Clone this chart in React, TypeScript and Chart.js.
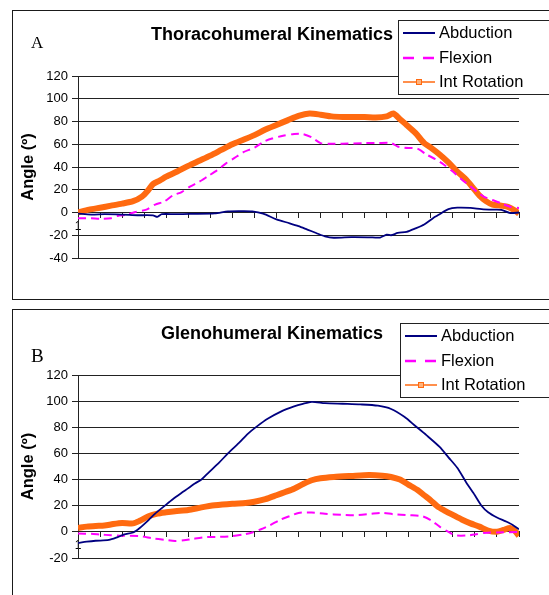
import React, { useEffect, useRef } from 'react';
import { Chart, registerables } from 'chart.js';

Chart.register(...registerables);

// ---------- data (x: percent of the movement cycle, y: angle in degrees) ----------
const yTicksA = [-40, -20, 0, 20, 40, 60, 80, 100, 120];
const yTicksB = [-20, 0, 20, 40, 60, 80, 100, 120];
const xTickFirstLabel = '1';
const seriesNames = ['Abduction', 'Flexion', 'Int Rotation'];

const thoracoAbduction: number[][] = [
  [0, -1], [3, -1.8], [6, -1.5], [10, -1.8], [13.5, -2.4], [17, -2.5], [18, -3.8], [19, -1.5],
  [22, -1.5], [25.5, -1.2], [31, -0.8], [34, 1], [37, 1.2], [39.5, 1], [42, -1], [45, -6],
  [48, -9.5], [50, -12], [52, -15], [54, -18], [56, -21], [58, -22.2], [62, -21.7], [66, -21.8],
  [68.5, -22], [70, -19.5], [71, -20], [72.5, -18], [74.5, -17], [76.5, -14], [78.5, -10.5],
  [80.5, -5], [82, -1.5], [84, 3], [86, 4.2], [89, 4], [91.5, 3], [94, 2.5], [96, 2.3], [98, -0.5], [100, 0],
];
const thoracoFlexion: number[][] = [
  [0, -5], [3, -5], [5, -5.5], [7.5, -5], [9, -3], [11, -2], [13, 0.5], [15.5, 2.5], [17.5, 7],
  [19.5, 9.5], [21.5, 15], [23.5, 18], [25.5, 23], [27.5, 27], [29.5, 32], [31.5, 37], [33.5, 43],
  [35.5, 48], [37.5, 53], [40, 57], [42, 62], [44, 65], [46.5, 67.5], [49, 69], [51, 69], [53, 66],
  [55, 61], [57, 60.5], [60, 60.5], [65, 61], [68, 61], [71, 61], [72.5, 58], [74, 57], [77, 56],
  [79, 51], [81, 47], [83, 42], [85, 36], [87, 29], [89, 23], [90.5, 18], [92, 14], [94, 11],
  [96, 8], [98, 5], [100, 4],
];
const thoracoIntRotation: number[][] = [
  [0, 0], [2.5, 2.5], [5, 4.2], [7.5, 6], [10, 7.8], [12.5, 10], [14.5, 14], [16, 20], [17, 25],
  [18.5, 28], [20, 31.5], [22.5, 36], [25, 41], [27.5, 45.5], [30, 50], [32.5, 55], [35, 60],
  [37.5, 64], [40, 68], [42.5, 73], [45, 77], [47.5, 81], [50, 85], [52.5, 87], [55, 86],
  [57.5, 84.5], [60, 84], [62.5, 84], [65, 84], [67.5, 83.5], [70, 84.5], [71.5, 87], [73, 82],
  [74.5, 77], [76.5, 70], [78.5, 61], [80, 57], [82, 51], [84, 44], [86, 36], [88, 29], [89.5, 22],
  [91, 15], [92.5, 10], [94, 7], [96, 6], [97.5, 5], [99, 2], [100, -1],
];

const glenoAbduction: number[][] = [
  [0, -8.5], [2, -7.5], [4, -6.8], [7, -6.2], [9, -4], [10.5, -2], [12.5, -0.5], [14, 3], [16, 9],
  [17.5, 14], [19.5, 19.5], [21.5, 25], [24, 31], [26.5, 37], [28, 40], [29.5, 45], [32, 53],
  [34, 60], [36.5, 68], [38.5, 75], [40.5, 80.5], [43, 86.5], [46, 92], [49, 96], [51, 98],
  [53, 99.5], [56, 98.5], [60, 98], [64, 97.5], [68, 96.5], [71, 94], [74, 88], [76.5, 81],
  [79, 74], [82, 65], [84, 57], [86, 49], [88, 38], [90, 28], [91.5, 20], [93, 15], [95, 11],
  [97, 8], [98.5, 5.5], [100, 2],
];
const glenoFlexion: number[][] = [
  [0, -1.3], [3, -1.5], [5, -2], [7.5, -2.6], [10, -3], [14, -3.2], [17, -5], [19.5, -6], [22, -7],
  [24, -6.5], [26, -5.4], [29, -4], [32, -3.8], [35, -3.3], [37.5, -2], [39.5, -0.5], [41.5, 2],
  [43.5, 5], [46, 9.5], [48, 12], [50, 14.5], [53, 14.8], [56, 13.8], [60, 13], [63, 12.8],
  [66, 13.6], [69, 14.6], [71.5, 13.5], [75, 12.8], [78, 12], [80, 9], [82, 4], [84, 0],
  [85.5, -2.6], [88, -2.8], [90, -2], [92, -0.8], [95, -0.5], [100, 0],
];
const glenoIntRotation: number[][] = [
  [0, 3], [2, 4], [4, 4.5], [6, 4.8], [8, 6], [10, 6.8], [12.5, 6.5], [14, 8.5], [16, 12], [18, 14],
  [20, 15], [22, 15.8], [25, 16.7], [28, 18.7], [31, 20.3], [35, 21.5], [38, 22], [40, 23],
  [42.5, 25], [45, 28], [47, 30.5], [49, 33], [51, 36.5], [53, 39.5], [55, 41], [58, 42], [62, 42.8],
  [66, 43.5], [69, 43], [71, 42], [73, 40], [75, 36], [77, 32], [78.5, 28], [80, 24], [81.5, 19.5],
  [83, 16.5], [85, 13], [87, 9.5], [89, 6.5], [91, 4], [93, 1], [95, 0], [96.5, 1.5], [98, 3],
  [99, 1], [100, -3],
];

// ---------- styles ----------
const NAVY = '#000080';
const MAGENTA = '#FF00FF';
const ORANGE = '#FF6A10';
const ORANGE_LIGHT = '#FFB27A';
const GRID = '#222222';
const SANS = '"Liberation Sans", Arial, sans-serif';
const SERIF = '"Liberation Serif", "Times New Roman", serif';

Chart.defaults.font.family = SANS;
Chart.defaults.color = '#000';

type PanelDef = {
  title: string;
  letter: string;
  letterSize: number;
  titleBaseline: number;
  letterBaseline: number;
  legendBox: { x: number; y: number; h: number };
  legendRows: number[];
  legendSampleX: number;
  yMin: number;
  yTicks: number[];
  abd: number[][];
  flex: number[][];
  rot: number[][];
  padBottom: number;
};

const toXY = (arr: number[][]) => arr.map(([x, y]) => ({ x, y }));

function decorPlugin(p: PanelDef) {
  return {
    id: 'decor',
    afterDraw(chart: Chart) {
      const ctx = chart.ctx;
      ctx.save();
      // title
      ctx.fillStyle = '#000';
      ctx.font = `bold 18px ${SANS}`;
      ctx.textAlign = 'center';
      ctx.textBaseline = 'alphabetic';
      ctx.fillText(p.title, 259, p.titleBaseline);
      // panel letter
      ctx.font = `${p.letterSize}px ${SERIF}`;
      ctx.textAlign = 'left';
      ctx.fillText(p.letter, 18, p.letterBaseline);
      // legend box
      const { x, y, h } = p.legendBox;
      ctx.fillStyle = '#fff';
      ctx.fillRect(x, y, 300, h);
      ctx.strokeStyle = '#222';
      ctx.lineWidth = 1;
      ctx.strokeRect(x + 0.5, y + 0.5, 300, h);
      const sx0 = p.legendSampleX;
      const sx1 = sx0 + 32;
      const colors = [NAVY, MAGENTA, ORANGE];
      p.legendRows.forEach((ry, i) => {
        ctx.save();
        ctx.strokeStyle = colors[i];
        ctx.lineWidth = i === 0 ? 2 : i === 1 ? 2.5 : 1.5;
        if (i === 1) ctx.setLineDash([11, 9]);
        ctx.beginPath();
        ctx.moveTo(sx0, ry);
        ctx.lineTo(sx1, ry);
        ctx.stroke();
        ctx.restore();
        if (i === 2) {
          ctx.fillStyle = ORANGE_LIGHT;
          ctx.fillRect(sx0 + 13, ry - 3, 6, 6);
          ctx.strokeStyle = ORANGE;
          ctx.lineWidth = 1;
          ctx.strokeRect(sx0 + 13.5, ry - 2.5, 5, 5);
        }
        ctx.fillStyle = '#000';
        ctx.font = `16.5px ${SANS}`;
        ctx.textAlign = 'left';
        ctx.textBaseline = 'middle';
        ctx.fillText(seriesNames[i], sx1 + 4, ry + 0.5);
      });
      ctx.restore();
    },
  };
}

function buildConfig(p: PanelDef): any {
  return {
    type: 'line',
    data: {
      datasets: [
        {
          label: seriesNames[0],
          data: toXY(p.abd),
          borderColor: NAVY,
          borderWidth: 1.8,
          pointRadius: 0,
          tension: 0.25,
        },
        {
          label: seriesNames[1],
          data: toXY(p.flex),
          borderColor: MAGENTA,
          borderWidth: 2,
          borderDash: [8, 5],
          pointRadius: 0,
          tension: 0.25,
        },
        {
          label: seriesNames[2],
          data: toXY(p.rot),
          borderColor: ORANGE,
          borderWidth: 6,
          pointRadius: 0,
          tension: 0.25,
        },
      ],
    },
    options: {
      responsive: false,
      animation: false,
      devicePixelRatio: 1,
      layout: { padding: { left: 0, top: 65, right: 30, bottom: p.padBottom } },
      plugins: {
        legend: { display: false },
        tooltip: { enabled: false },
        title: { display: false },
      },
      scales: {
        x: {
          type: 'linear',
          min: 0,
          max: 100,
          position: { y: 0 },
          ticks: {
            stepSize: 5,
            autoSkip: false,
            maxRotation: 0,
            minRotation: 0,
            padding: 2,
            font: { size: 12 },
            color: '#000',
            callback: (v: number) => (v === 0 ? xTickFirstLabel : ''),
          },
          grid: { drawOnChartArea: false, drawTicks: true, tickLength: 5, color: GRID },
          border: { display: true, color: GRID, width: 1 },
        },
        y: {
          min: p.yMin,
          max: 120,
          afterFit: (scale: any) => {
            scale.width = 65;
          },
          afterBuildTicks: (scale: any) => {
            scale.ticks = p.yTicks.map((v) => ({ value: v }));
          },
          ticks: {
            font: { size: 13 },
            color: '#000',
            padding: 4,
          },
          grid: { color: GRID, lineWidth: 1, tickLength: 6, drawTicks: true },
          border: { display: true, color: GRID, width: 1 },
          title: {
            display: true,
            text: 'Angle (º)',
            font: { size: 16.5, weight: 'bold' },
            color: '#000',
            padding: { top: 6, bottom: 0 },
          },
        },
      },
    },
    plugins: [decorPlugin(p)],
  };
}

const panelA: PanelDef = {
  title: 'Thoracohumeral Kinematics',
  letter: 'A',
  letterSize: 17,
  titleBaseline: 29,
  letterBaseline: 37.3,
  legendBox: { x: 385, y: 9, h: 74 },
  legendRows: [22, 47, 71],
  legendSampleX: 390,
  yMin: -40,
  yTicks: yTicksA,
  abd: thoracoAbduction,
  flex: thoracoFlexion,
  rot: thoracoIntRotation,
  padBottom: 41,
};

const panelB: PanelDef = {
  title: 'Glenohumeral Kinematics',
  letter: 'B',
  letterSize: 19,
  titleBaseline: 29.3,
  letterBaseline: 51.7,
  legendBox: { x: 387, y: 13, h: 74 },
  legendRows: [26, 51, 75],
  legendSampleX: 392,
  yMin: -20,
  yTicks: yTicksB,
  abd: glenoAbduction,
  flex: glenoFlexion,
  rot: glenoIntRotation,
  padBottom: 37,
};

function ChartCanvas({ def, left, top, width, height }: { def: PanelDef; left: number; top: number; width: number; height: number }) {
  const ref = useRef<HTMLCanvasElement>(null);
  useEffect(() => {
    const chart = new Chart(ref.current as HTMLCanvasElement, buildConfig(def));
    return () => chart.destroy();
  }, [def]);
  return (
    <canvas
      ref={ref}
      width={width}
      height={height}
      style={{ position: 'absolute', left, top, width, height }}
    />
  );
}

export default function App() {
  return (
    <div
      style={{
        position: 'fixed',
        left: 0,
        top: 0,
        width: 549,
        height: 595,
        overflow: 'hidden',
        background: '#fff',
      }}
    >
      <div
        style={{
          position: 'absolute',
          left: 12,
          top: 10,
          width: 600,
          height: 290,
          boxSizing: 'border-box',
          border: '1px solid #1a1a1a',
        }}
      />
      <div
        style={{
          position: 'absolute',
          left: 12,
          top: 309,
          width: 600,
          height: 400,
          boxSizing: 'border-box',
          border: '1px solid #1a1a1a',
        }}
      />
      <ChartCanvas def={panelA} left={13} top={11} width={536} height={288} />
      <ChartCanvas def={panelB} left={13} top={310} width={536} height={285} />
    </div>
  );
}
